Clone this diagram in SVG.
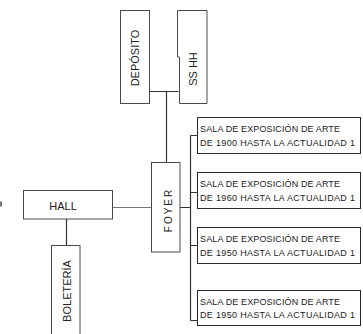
<svg xmlns="http://www.w3.org/2000/svg" width="363" height="334" viewBox="0 0 363 334">
<style>
.box{fill:#fff;stroke:#4a4a4a;stroke-width:1}
.sala{fill:#fff;stroke:#2a2a2a;stroke-width:1}
.ln{fill:none;stroke:#333;stroke-width:1.2}
.lt{fill:none;stroke:#777;stroke-width:1}
.t{font-family:"Liberation Sans",Arial,sans-serif;fill:#222}
.v{font-size:11px;text-anchor:middle}
.s{font-size:9px}
</style>
<rect width="363" height="334" fill="#fff"/>
<g id="connectors">
<path class="ln" d="M150,91.5H178.5M166.5,91.5V162.5"/>
<path class="lt" d="M113,207.5H151.5"/>
<path class="ln" d="M66.5,219V245.5"/>
<path class="ln" d="M180,207.5H190.5M190.5,135.5V320.5M190.5,135.5H197.5M190.5,192.5H197.5M190.5,245.5H197.5M190.5,320.5H197.5"/>
</g>
<g id="deposito">
<rect class="box" x="120.5" y="10.5" width="29" height="93"/>
<text class="t v" transform="translate(139,58) rotate(-90)">DEPÓSITO</text>
</g>
<g id="sshh">
<path class="box" d="M177.5,10.5H207V103.5H179.5V57H177.5Z"/>
<text class="t v" transform="translate(197,69) rotate(-90)">SS HH</text>
</g>
<g id="foyer">
<rect class="box" x="151.5" y="162.5" width="28.5" height="89.5"/>
<text class="t v" style="font-size:10px;letter-spacing:2px" transform="translate(171.5,210) rotate(-90)">FOYER</text>
</g>
<g id="hall">
<rect class="box" x="23.5" y="190.5" width="89" height="28.5"/>
<text class="t v" x="63" y="210">HALL</text>
</g>
<g id="boleteria">
<rect class="box" x="51.5" y="245.5" width="28.5" height="95"/>
<text class="t v" transform="translate(71,291) rotate(-90)">BOLETERÍA</text>
</g>
<g id="sala1">
<rect class="sala" x="197.5" y="117.5" width="163" height="36"/>
<text class="t s" x="200" y="131.5" textLength="140" lengthAdjust="spacing">SALA DE EXPOSICIÓN DE ARTE</text>
<text class="t s" x="200" y="145.5" textLength="155" lengthAdjust="spacing">DE 1900 HASTA LA ACTUALIDAD 1</text>
</g>
<g id="sala2">
<rect class="sala" x="197.5" y="172.5" width="163" height="36"/>
<text class="t s" x="200" y="186.5" textLength="140" lengthAdjust="spacing">SALA DE EXPOSICIÓN DE ARTE</text>
<text class="t s" x="200" y="200.5" textLength="155" lengthAdjust="spacing">DE 1960 HASTA LA ACTUALIDAD 1</text>
</g>
<g id="sala3">
<rect class="sala" x="197.5" y="227.5" width="163" height="36"/>
<text class="t s" x="200" y="241.5" textLength="140" lengthAdjust="spacing">SALA DE EXPOSICIÓN DE ARTE</text>
<text class="t s" x="200" y="255.5" textLength="155" lengthAdjust="spacing">DE 1950 HASTA LA ACTUALIDAD 1</text>
</g>
<g id="sala4">
<rect class="sala" x="197.5" y="290.5" width="163" height="35"/>
<text class="t s" x="200" y="304.5" textLength="140" lengthAdjust="spacing">SALA DE EXPOSICIÓN DE ARTE</text>
<text class="t s" x="200" y="318" textLength="155" lengthAdjust="spacing">DE 1950 HASTA LA ACTUALIDAD 1</text>
</g>
<path d="M1,201.5V206.5" stroke="#444" stroke-width="1.5"/>
</svg>
